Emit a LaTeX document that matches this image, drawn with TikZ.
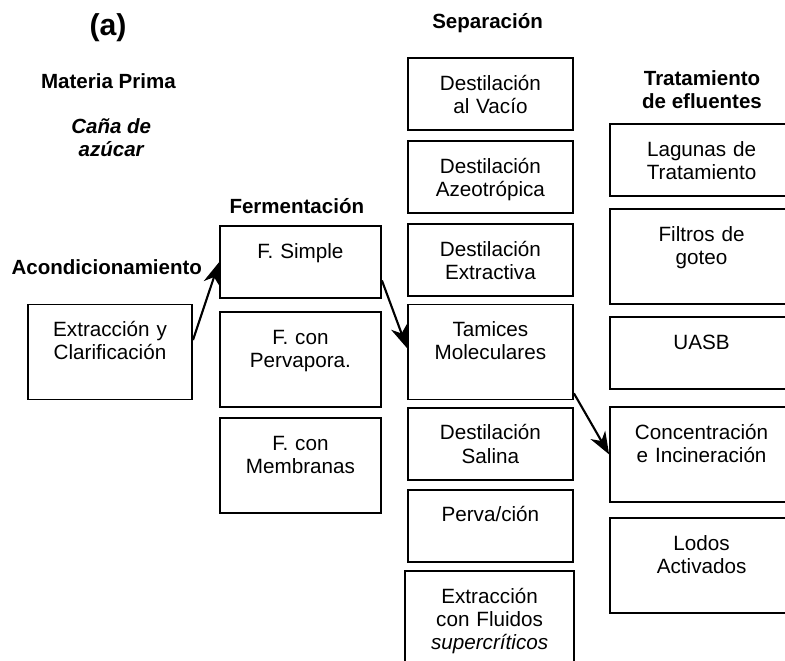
\documentclass[tikz,border=0pt]{standalone}
\usepackage{fontspec}
\setmainfont{Liberation Sans}
\usepackage{tikz}
\usetikzlibrary{arrows.meta, positioning, calc}

\begin{document}
\begin{tikzpicture}[
    box/.style={rectangle, draw, line width=1.4pt, inner xsep=0pt, inner ysep=0.3cm, align=center, text width=#1, text height=0.51cm, text depth=0.69cm, font=\fontsize{14.7}{16.4}\selectfont},
    tall/.style={text depth=1.265cm},
    head/.style={align=center, font=\bfseries\fontsize{14.6}{16.4}\selectfont},
    arrow/.style={-{Stealth[length=16pt, width=12pt, inset=5pt]}, line width=1.5pt}
]
    \clip (0,0) rectangle (19.625,-16.525);

    % Titles
    \node[head, font=\bfseries\fontsize{21.5}{24}\selectfont] (panel) at (2.7, -0.68) {(a)};
    \node[head] (materia) at (2.71, -2.02) {Materia Prima};
    \node[head, font=\bfseries\itshape\fontsize{14.6}{16.4}\selectfont] (cana) at (2.78, -3.45) {Caña de\\azúcar};
    \node[head] (acond) at (2.67, -6.68) {Acondicionamiento};
    \node[head] (ferm) at (7.42, -5.16) {Fermentación};
    \node[head] (sep) at (12.19, -0.57) {Separación};
    \node[head] (trat) at (17.55, -2.25) {Tratamiento\\de efluentes};

    % Acondicionamiento
    \node[box=4.1cm, tall] (ext) at (2.75, -8.8) {Extracción y\\Clarificación};

    % Fermentacion
    \node[box=4.025cm] (fsimple) at (7.51, -6.56) {F. Simple};
    \node[box=4.025cm, tall] (fperv) at (7.51, -8.99) {F. con\\Pervapora.};
    \node[box=4.025cm, tall] (fmemb) at (7.51, -11.64) {F. con\\Membranas};

    % Separacion
    \node[box=4.125cm] (vacio) at (12.26, -2.35) {Destilación\\al Vacío};
    \node[box=4.125cm] (azeo) at (12.26, -4.43) {Destilación\\Azeotrópica};
    \node[box=4.125cm] (extrac) at (12.26, -6.51) {Destilación\\Extractiva};
    \node[box=4.125cm, tall] (tamices) at (12.26, -8.8) {Tamices\\Moleculares};
    \node[box=4.125cm] (salina) at (12.26, -11.09) {Destilación\\Salina};
    \node[box=4.125cm] (perva) at (12.26, -13.14) {Perva/ción};
    \node[box=4.225cm, text depth=1.89cm] (fluidos) at (12.24, -15.775) {Extracción\\con Fluidos\\\textit{supercríticos}};

    % Tratamiento de efluentes
    \node[box=4.575cm] (lagunas) at (17.54, -4.01) {Lagunas de\\Tratamiento};
    \node[box=4.575cm, tall] (filtros) at (17.54, -6.41) {Filtros de\\goteo};
    \node[box=4.575cm] (uasb) at (17.54, -8.83) {UASB};
    \node[box=4.575cm, tall] (conc) at (17.54, -11.36) {Concentración\\e Incineración};
    \node[box=4.575cm, tall] (lodos) at (17.54, -14.14) {Lodos\\Activados};

    % Ruta seleccionada
    \draw[arrow] ([yshift=0.3cm]ext.east) -- (fsimple.west);
    \draw[arrow] ([yshift=-0.45cm]fsimple.east) -- ([yshift=0.1cm]tamices.west);
    \draw[arrow] ([yshift=0.18cm]tamices.south east) -- (conc.west);
\end{tikzpicture}
\end{document}
